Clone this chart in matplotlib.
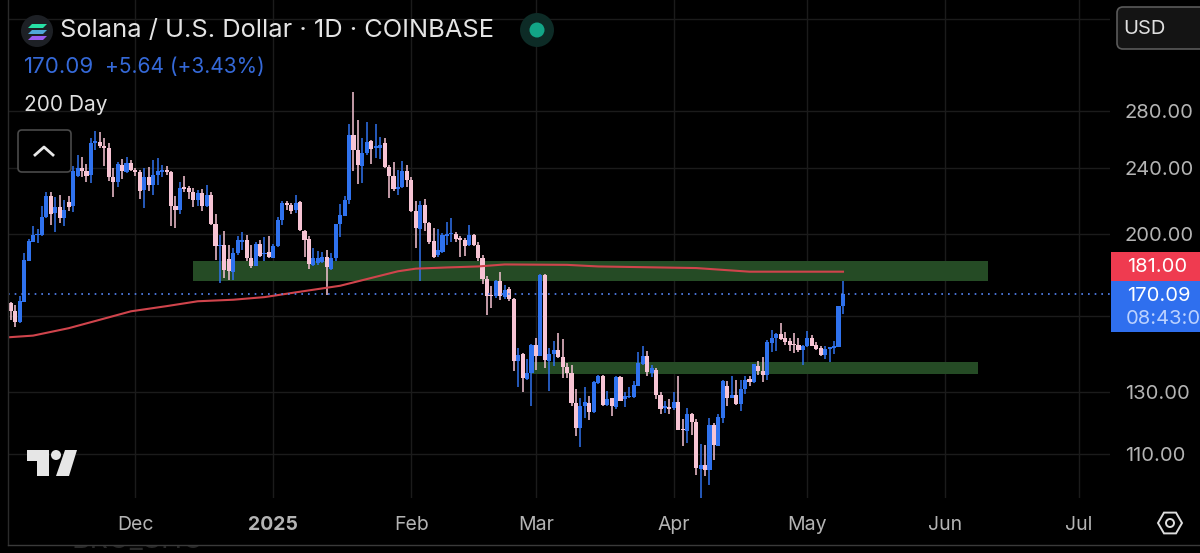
import matplotlib
matplotlib.use('Agg')
import matplotlib.pyplot as plt
from matplotlib.patches import Rectangle, FancyBboxPatch, Circle, Polygon, RegularPolygon
from matplotlib.ticker import NullLocator, NullFormatter
import numpy as np

plt.rcParams['font.family'] = ['Inter', 'DejaVu Sans']

# daily SOL/USD candles, first bar is 3 Nov 2024
opens = [165.9, 162.5, 157.4, 166.4, 186.2, 195.9, 199.5, 199.5, 210, 222.3,
         212.1, 215.6, 209.1, 218.5, 215.9, 234.4, 239.7, 238, 235.4, 256.6,
         257.1, 254.8, 252.9, 234, 230.5, 241.9, 237.1, 242.9, 238.6, 236.9,
         225.8, 234, 229, 235, 237.1, 238.2, 237.1, 216.4, 213.6, 227.5,
         227, 224.8, 219.5, 223.8, 216, 222.9, 205.8, 193.6, 194.5, 186.9,
         180.4, 190, 195.9, 197.2, 187.7, 183.6, 195, 189.6, 190.5, 187.7,
         193.6, 208.2, 218, 216.6, 213.6, 218.4, 201.9, 197.6, 184.1, 184.9,
         185.3, 188.2, 182, 187.4, 205.8, 210.5, 219.5, 262.1, 251.9, 241.2,
         249.6, 257.8, 253.1, 253.1, 256.6, 240.3, 234.8, 226.2, 227.5, 238,
         231.8, 213, 203.1, 216.6, 206.6, 196.3, 189.1, 190.5, 199, 200.1,
         200.4, 198.1, 197.2, 194.1, 199.5, 194.5, 187.7, 177.3, 169.7, 168.9,
         176, 168.6, 172.2, 167.8, 141.6, 144.3, 134.9, 137.1, 147.8, 143.4,
         178.9, 141.8, 144.4, 146.1, 143.1, 139.2, 137.1, 126.3, 117.9, 125.2,
         126.3, 123.1, 133.4, 135.9, 125.7, 128, 125, 135.6, 127.7, 128.3,
         128.3, 132.4, 140.5, 143.6, 137.1, 138.3, 129.1, 124.6, 124.8, 124.6,
         126.5, 117.6, 116.9, 122.7, 120.1, 105.5, 106.8, 105.3, 118.9, 112.4,
         121.2, 132.2, 128.2, 129.1, 126, 131.2, 134.9, 133.6, 139.8, 137.9,
         136.5, 148.8, 150.8, 152.5, 150.8, 149.4, 148.3, 147.8, 146.1, 147.4,
         150.8, 148.1, 146.6, 143.8, 146.5, 146.7, 147.2, 164.4]
closes = [162.2, 157.7, 166.7, 186.6, 196.3, 199.9, 200.4, 210, 222.3, 211.7,
          215.6, 209.1, 213.6, 215.6, 237.6, 239.7, 237.6, 234.8, 256.6, 257.8,
          254.3, 252.9, 234, 230.5, 242.5, 237.6, 243.3, 238.6, 236.9, 225.4,
          234, 229, 235.4, 237.6, 238.6, 236.9, 216.4, 213.6, 227.3, 226.4,
          224.8, 219.5, 224.2, 216, 222.9, 205.8, 193.6, 194, 181.4, 180.9,
          190, 196.8, 197.2, 187.4, 183.6, 195, 188.6, 190.4, 188.2, 194,
          208.2, 218, 216.6, 213, 218, 202.2, 197.2, 184.6, 187.4, 187.4,
          188.2, 182.8, 187.4, 205.8, 211.1, 219.5, 262.1, 251.9, 241.9, 250,
          257.3, 252.4, 254.3, 255.5, 240.3, 234.8, 226.2, 227.9, 238, 231.8,
          213, 203.5, 216.6, 206.2, 195.8, 188.2, 191.8, 199.5, 200.4, 200.8,
          197.6, 196.8, 194, 199.5, 194.1, 187.7, 177.1, 169.2, 168.9, 176.1,
          168.9, 171.9, 167.7, 141.6, 144, 135.2, 137.1, 148.1, 143.4, 178.9,
          142, 144.4, 146.1, 143.1, 139.2, 137.1, 126.3, 118.1, 125.4, 126.5,
          123.1, 133.6, 135.9, 125.7, 127.7, 125.2, 135.6, 127.1, 128.6, 128.8,
          132.8, 140.8, 143.6, 137.3, 138.9, 129.1, 124.4, 125.2, 124.4, 126.5,
          117.2, 117.2, 122.7, 119.9, 105.8, 106.7, 105.3, 118.9, 112.7, 121.5,
          134, 128.2, 129.1, 126, 131.2, 134.6, 133.6, 140.4, 137.7, 136.5,
          149, 150.8, 152.5, 150.6, 149.2, 147.8, 147.8, 146.1, 147.4, 150.8,
          147.7, 146.4, 143.8, 146.5, 147, 147.4, 164.4, 170.09]
highs = [166.5, 165.2, 169.2, 190, 197.7, 204.9, 203.1, 216, 224.8, 224.8,
         221.5, 222.7, 219.9, 221.9, 241.2, 248.4, 247.2, 242.5, 260.2, 264.9,
         264.4, 260.2, 256.6, 239.7, 244, 245.5, 246.8, 245, 239.7, 238.6,
         239.7, 240.3, 245, 246.3, 241.9, 241.2, 237.6, 221.9, 230.5, 234.4,
         228.4, 227, 225.8, 226.2, 228.6, 224.8, 211.7, 199.5, 202, 194.5,
         192.7, 199, 201.3, 199.5, 194.1, 195.8, 197.2, 198.6, 199, 195,
         209.7, 219, 219, 218, 222.9, 219, 202.6, 199, 192.7, 191.4,
         190.9, 191.8, 190, 205.8, 217.4, 221.9, 270.1, 295.2, 272.9, 260.2,
         271.5, 259, 270.1, 260.6, 260.2, 241.9, 244, 238.6, 244.6, 241.9,
         234, 219, 219, 220.3, 207.1, 203.5, 203.1, 200.8, 207.1, 209.1,
         201.2, 199, 198.1, 205.3, 200.3, 195.9, 189, 178.4, 173.8, 176.8,
         180.5, 174.1, 173.1, 168.1, 146.7, 144.7, 142.3, 148.5, 151, 179.7,
         179.7, 146.7, 149.7, 152.8, 150.5, 140.8, 140.2, 131.3, 128, 131.8,
         128.8, 134, 136.5, 136.5, 130.6, 128, 135.9, 136.1, 130, 131.8,
         134, 145, 147.4, 145.4, 140.2, 138.9, 130.3, 126.9, 127.7, 130.3,
         136.1, 120.9, 124.6, 122.9, 120.9, 113.1, 112.6, 121.2, 119.5, 122.6,
         134.4, 134, 136.1, 134.4, 134.4, 135.9, 135.9, 140.5, 141.8, 143.1,
         150.1, 154.2, 152.8, 156.9, 153.2, 150.8, 153, 150.8, 148.1, 153.9,
         151.9, 149, 147.4, 147.7, 147.2, 149.4, 164.4, 176]
lows = [158.5, 155.4, 157, 166.4, 185.9, 195.8, 195.4, 199, 209.1, 205.3,
        201.2, 206.6, 204.8, 213, 212.5, 234, 234, 230.5, 230.1, 251.9,
        253.1, 241.2, 231.2, 221.5, 227.9, 232.7, 236.5, 237.6, 234.4, 220.3,
        215, 225.4, 222.9, 229, 234, 235.4, 204.8, 203.5, 211.7, 224.8,
        220.3, 215.6, 216, 213, 215.6, 205.3, 186.6, 175.2, 177.6, 176.8,
        176.5, 189.1, 191.8, 185.8, 182.5, 183.3, 188.2, 185.8, 187.4, 187.4,
        193.2, 205.3, 214, 211.7, 212.1, 201.7, 188.2, 182, 183.3, 184.1,
        184.9, 169.7, 181.7, 185.8, 198.6, 210.1, 217.6, 237.6, 229.2, 230.1,
        248.4, 242.5, 246.1, 245.7, 239.7, 220.9, 225.4, 222.5, 227, 227.5,
        212.5, 192.7, 176, 201.7, 195, 187.4, 188.2, 190, 194.5, 195.8,
        195.8, 188.2, 188.7, 193.6, 193.6, 186.2, 174.8, 160.7, 163.7, 168.2,
        167.1, 167.7, 166.7, 137.9, 132, 130.3, 134.6, 125.4, 138.3, 143.4,
        138.9, 130.6, 139.8, 142.7, 135.2, 135.2, 125.2, 115.3, 112, 121.2,
        120.7, 122.9, 133.1, 125.4, 125.2, 121.8, 124.3, 126.9, 125, 128,
        128.2, 132.2, 140.2, 135.9, 135.6, 127.7, 122.7, 122.9, 122.7, 123.8,
        117.2, 112.2, 113.3, 115.8, 103.7, 97.6, 103.4, 101, 108.1, 112.2,
        119.5, 125.2, 128, 125.7, 123.5, 129.5, 132.4, 133.4, 136.5, 133.7,
        134.4, 145, 145.4, 150.1, 147.8, 145.4, 144.7, 145, 140.2, 147.2,
        147.4, 145.8, 143.4, 142.4, 141.1, 144.4, 147.2, 160.8]

# 200 day moving average, read at these bar numbers
ma_bars = [-0.6, 5, 13, 20, 27, 35, 42, 50, 57, 65, 74, 80, 87, 91, 98, 105, 111, 125, 132, 143, 154, 166, 187]
ma_vals = [151.1, 151.8, 154.9, 158.5, 162.2, 164.5, 166.7, 167.4, 168.6, 171.1, 173.9, 177.1,
           180.9, 182.2, 182.8, 183.3, 184.3, 184.1, 183.3, 182.9, 182.5, 180.7, 180.7]

# drawn green zones: first bar, last bar, low, high
zone_starts = [41, 117]
zone_ends = [219.6, 217.4]
zone_lows = [176.2, 136.6]
zone_highs = [186, 141.2]

month_bars = [28, 59, 90, 118, 149, 179, 210, 240]
month_labels = ['Dec', '2025', 'Feb', 'Mar', 'Apr', 'May', 'Jun', 'Jul']
price_ticks = [360, 280, 240, 200, 160, 130, 110]
price_labels = ['', '280.00', '240.00', '200.00', '', '130.00', '110.00']
last_price = 170.09
ma_last = 181.00

BLUE = '#2f72ee'
PINK = '#f7c4d4'

fig = plt.figure(figsize=(12, 5.53), dpi=100, facecolor='black')
ax = fig.add_axes([8 / 1200, (553 - 498) / 553, 1102 / 1200, 498 / 553], facecolor='black')

bars = np.arange(len(opens))
o = np.array(opens)
c = np.array(closes)
colors = [BLUE if up else PINK for up in c >= o]

for s, e, lo, hi in zip(zone_starts, zone_ends, zone_lows, zone_highs):
    ax.fill_between([s, e], lo, hi, color='#254b25', lw=0, zorder=1)

ax.vlines(bars, lows, highs, colors=colors, lw=1.1, zorder=2)
ax.bar(bars, np.maximum(np.abs(c - o), 0.5), bottom=np.minimum(o, c), width=0.92, color=colors, lw=0, zorder=3)

ax.plot(ma_bars, ma_vals, color='#d0444c', lw=1.5, zorder=4)
ax.axhline(last_price, color='#5585f5', lw=1.2, ls=(0, (1, 3)), zorder=4)

ax.set_yscale('log')
ax.set_xlim(-0.63, 247)
ax.set_ylim(97.5, 379)
ax.yaxis.tick_right()
ax.yaxis.set_minor_locator(NullLocator())
ax.yaxis.set_minor_formatter(NullFormatter())
ax.set_yticks(price_ticks)
ax.set_yticklabels(price_labels)
ax.set_xticks(month_bars)
ax.set_xticklabels(month_labels)
ax.get_xticklabels()[1].set_fontweight('bold')
ax.tick_params(axis='x', length=0, pad=13, labelsize=14, labelcolor='#b4b4b4')
ax.tick_params(axis='y', length=0, pad=10.5, labelsize=14.5, labelcolor='#b4b4b4')
ax.grid(True, color='#1b1b1b', lw=1)
ax.set_axisbelow(True)
for sp in ax.spines.values():
    sp.set_visible(False)

# screen furniture on a pixel overlay
ui = fig.add_axes([0, 0, 1, 1])
ui.set_xlim(0, 1200)
ui.set_ylim(553, 0)
ui.axis('off')
ui.patch.set_alpha(0)

ui.plot([8, 8], [0, 545], color='#2b2b2b', lw=1)
ui.plot([8, 1200], [545, 545], color='#3a3a3a', lw=1)

# a name from the next panel down, only its foot shows below the border
under = ui.text(72, 548.5, 'BRO_SHO', color='#2a2a2a', fontsize=20.5, clip_on=True)
under.set_clip_path(Rectangle((60, 546), 200, 7, transform=ui.transData))

# solana icon
ui.add_patch(Circle((37, 31), 16, color='#1d2025', lw=0))
stripe_colors = ['#27e0a5', '#4fa8d8', '#9a5cf0']
for k, col in enumerate(stripe_colors):
    y0 = 24 + k * 6
    ui.add_patch(Polygon([[32, y0], [47, y0], [43, y0 + 4], [28, y0 + 4]], color=col, lw=0))

ui.text(60, 31, 'Solana / U.S. Dollar · 1D · COINBASE', color='#e4e4e4', fontsize=18.3, va='center')
ui.add_patch(Circle((537, 30), 17, color='#0d2b26', lw=0))
ui.add_patch(Circle((537, 30), 7.5, color='#12a587', lw=0))
ui.text(24, 67, f'{last_price:.2f}', color='#3569d8', fontsize=16, va='center')
ui.text(105, 67, '+5.64 (+3.43%)', color='#3569d8', fontsize=15, va='center')
ui.text(24, 105, '200 Day', color='#e0e0e0', fontsize=15, va='center')

ui.add_patch(FancyBboxPatch((18, 130), 53, 42, boxstyle='round,pad=0,rounding_size=4', fc='black', ec='#4a4a4a', lw=1.2))
ui.plot([35, 44, 53], [155, 147, 155], color='#e8e8e8', lw=2)

ui.add_patch(FancyBboxPatch((1117, 7), 100, 42, boxstyle='round,pad=0,rounding_size=6', fc='#141414', ec='#5a5a5a', lw=1.2, clip_on=True))
ui.text(1123, 29, 'USD', color='#e0e0e0', fontsize=14.5, va='center')

# price tags
ui.add_patch(Rectangle((1111, 252), 89, 29, color='#ef3b50', lw=0))
ui.add_patch(Rectangle((1111, 281), 89, 51, color='#2f6fee', lw=0))
ui.text(1127, 267, f'{ma_last:.2f}', color='white', fontsize=14.5, va='center')
ui.text(1127, 296, f'{last_price:.2f}', color='white', fontsize=14.5, va='center')
ui.text(1126, 319, '08:43:0', color='#bcd2ff', fontsize=14.5, va='center', clip_on=True)

# tradingview mark
logo = '#e6e6e6'
ui.add_patch(Polygon([[27, 450], [49, 450], [49, 476], [37, 476], [37, 461], [27, 461]], color=logo, lw=0))
ui.add_patch(Circle((56, 455), 5, color=logo, lw=0))
ui.add_patch(Polygon([[65, 450], [77, 450], [69, 476], [56, 476]], color=logo, lw=0))

# settings hexagon
ui.add_patch(RegularPolygon((1170, 523), 6, radius=12, orientation=np.pi / 2, fc='none', ec='#dddddd', lw=1.4))
ui.add_patch(Circle((1170, 523), 4, fc='none', ec='#dddddd', lw=1.4))

fig.savefig('out.png', dpi=100, facecolor='black')
